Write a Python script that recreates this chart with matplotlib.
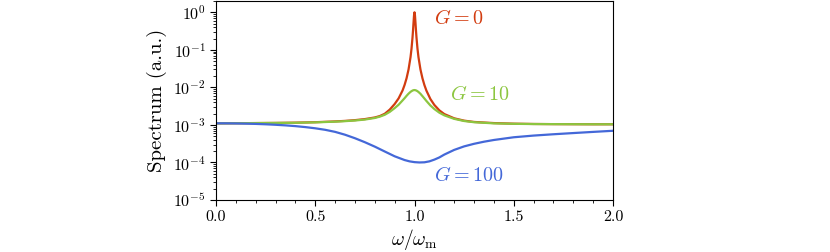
import matplotlib
matplotlib.use("Agg")
import matplotlib.pyplot as plt
from matplotlib.ticker import MultipleLocator, LogLocator, NullFormatter

plt.rcParams["font.family"] = "serif"
plt.rcParams["font.serif"] = ["cmr10"]
plt.rcParams["mathtext.fontset"] = "cm"
plt.rcParams["axes.formatter.use_mathtext"] = True

# Frequency grid for the two peaked curves (omega / omega_m)
omega_peak = [0.0, 0.1, 0.2, 0.3, 0.4, 0.5, 0.6, 0.65, 0.7, 0.75, 0.8, 0.825, 0.85,
              0.875, 0.9, 0.92, 0.94, 0.95, 0.96, 0.97, 0.98, 0.985, 0.99, 0.9925,
              0.995, 0.9975, 1.0, 1.0025, 1.005, 1.0075, 1.01, 1.015, 1.02, 1.03,
              1.04, 1.05, 1.06, 1.08, 1.1, 1.125, 1.15, 1.2, 1.25, 1.3, 1.4, 1.5,
              1.6, 1.7, 1.8, 1.9, 2.0]

# Spectrum, G = 0
spec_g0 = [1.10e-3, 1.11e-3, 1.12e-3, 1.13e-3, 1.15e-3, 1.18e-3, 1.24e-3, 1.28e-3,
           1.34e-3, 1.43e-3, 1.58e-3, 1.72e-3, 1.98e-3,
           2.55e-3, 3.6e-3, 5.1e-3, 8.3e-3, 1.16e-2, 1.75e-2, 3.0e-2, 6.4e-2, 0.108,
           0.214, 0.325,
           0.52, 0.81, 1.0, 0.81, 0.52, 0.325, 0.214, 0.108, 6.4e-2, 3.0e-2,
           1.75e-2, 1.15e-2, 8.2e-3, 4.9e-3, 3.4e-3, 2.45e-3, 1.95e-3, 1.5e-3, 1.3e-3,
           1.2e-3, 1.12e-3, 1.08e-3,
           1.06e-3, 1.05e-3, 1.045e-3, 1.04e-3, 1.04e-3]

# G = 10
spec_g10 = [1.10e-3, 1.11e-3, 1.12e-3, 1.13e-3, 1.14e-3, 1.17e-3, 1.22e-3, 1.26e-3,
            1.31e-3, 1.39e-3, 1.53e-3, 1.66e-3, 1.86e-3,
            2.22e-3, 2.8e-3, 3.45e-3, 4.5e-3, 5.15e-3, 5.95e-3, 6.8e-3, 7.6e-3, 7.92e-3,
            8.22e-3, 8.33e-3,
            8.41e-3, 8.46e-3, 8.48e-3, 8.45e-3, 8.39e-3, 8.3e-3, 8.2e-3, 7.9e-3, 7.55e-3, 6.75e-3,
            5.85e-3, 5.05e-3, 4.35e-3, 3.3e-3, 2.65e-3, 2.12e-3, 1.8e-3, 1.45e-3, 1.27e-3,
            1.18e-3, 1.1e-3, 1.07e-3,
            1.055e-3, 1.05e-3, 1.045e-3, 1.04e-3, 1.04e-3]

# Frequency grid and spectrum for G = 100
omega_dip = [0.0, 0.05, 0.1, 0.15, 0.2, 0.25, 0.3, 0.35, 0.4, 0.45, 0.5, 0.55, 0.6,
             0.65, 0.7, 0.75, 0.8, 0.85, 0.9, 0.95, 0.975, 1.0, 1.025, 1.05, 1.075,
             1.1, 1.125, 1.15, 1.2, 1.25, 1.3, 1.35, 1.4, 1.5, 1.6, 1.7, 1.8, 1.9, 2.0]
spec_g100 = [1.104e-3, 1.102e-3, 1.094e-3, 1.081e-3, 1.064e-3, 1.040e-3, 1.009e-3,
             9.73e-4, 9.29e-4, 8.75e-4, 8.13e-4, 7.41e-4, 6.53e-4, 5.48e-4, 4.42e-4,
             3.46e-4, 2.64e-4, 1.96e-4, 1.46e-4, 1.16e-4, 1.07e-4, 1.02e-4, 1.00e-4,
             1.01e-4, 1.07e-4, 1.19e-4, 1.36e-4, 1.62e-4, 2.16e-4, 2.68e-4, 3.14e-4,
             3.57e-4, 3.97e-4, 4.69e-4, 5.20e-4, 5.64e-4, 6.07e-4, 6.52e-4, 6.98e-4]

labels = ["$G=0$", "$G=10$", "$G=100$"]
colors = ["#d23c10", "#8cc640", "#4468d8"]

fig = plt.figure(figsize=(8.3, 2.52), dpi=100)
ax = fig.add_axes([216 / 830, 1 - 200 / 252, 397 / 830, 199 / 252])

ax.plot(omega_peak, spec_g0, color=colors[0], lw=1.6)
ax.plot(omega_peak, spec_g10, color=colors[1], lw=1.6)
ax.plot(omega_dip, spec_g100, color=colors[2], lw=1.6)

ax.set_yscale("log")
ax.set_xlim(0, 2)
ax.set_ylim(1e-5, 2)

ax.xaxis.set_major_locator(MultipleLocator(0.5))
ax.xaxis.set_minor_locator(MultipleLocator(0.1))
ax.xaxis.set_major_formatter(plt.FuncFormatter(lambda v, p: "%.1f" % v))
ax.yaxis.set_major_locator(LogLocator(base=10, numticks=10))
ax.yaxis.set_minor_locator(LogLocator(base=10, subs=range(2, 10), numticks=10))
ax.yaxis.set_minor_formatter(NullFormatter())

ax.tick_params(which="major", length=4, width=0.8, labelsize=11.5)
ax.tick_params(which="minor", length=2, width=0.6)

ax.set_xlabel(r"$\omega/\omega_\mathrm{m}$", fontsize=14, labelpad=2)
ax.set_ylabel("Spectrum (a.u.)", fontsize=15, labelpad=4)

# curve labels
ax.text(1.10, 0.7, labels[0], color=colors[0], fontsize=14.5, va="center")
ax.text(1.18, 6.3e-3, labels[1], color=colors[1], fontsize=14.5, va="center")
ax.text(1.10, 4.4e-5, labels[2], color=colors[2], fontsize=14.5, va="center")

fig.savefig("out.png", dpi=100)
